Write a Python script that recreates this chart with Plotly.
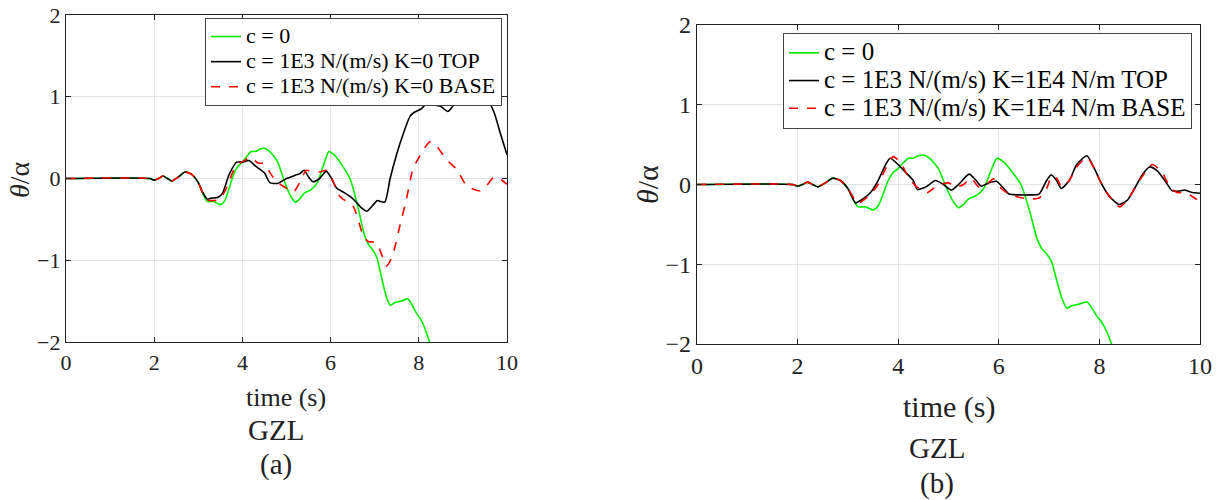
import plotly.graph_objects as go

# ---------------- data ----------------
t_green = [0, 1.9, 2.0, 2.1, 2.2, 2.3, 2.4, 2.55, 2.7, 2.85, 3.0, 3.1, 3.2, 3.35, 3.5, 3.6, 3.7, 3.8,
           3.9, 4.0, 4.1, 4.2, 4.3, 4.4, 4.5, 4.6, 4.7, 4.8, 4.9, 5.0, 5.1, 5.2, 5.3, 5.4, 5.55, 5.7,
           5.8, 5.9, 5.96, 6.1, 6.25, 6.44, 6.55, 6.65, 6.75, 6.85, 6.95, 7.05, 7.15, 7.25, 7.35,
           7.45, 7.6, 7.75, 7.85, 7.95, 8.05, 8.15, 8.3]
v_green = [0, 0, -0.02, 0.0, 0.03, 0.0, -0.03, 0.02, 0.08, 0.05, -0.05, -0.18, -0.28, -0.28, -0.32,
           -0.27, -0.12, 0.05, 0.15, 0.2, 0.27, 0.33, 0.33, 0.36, 0.37, 0.34, 0.28, 0.2, 0.05, -0.1,
           -0.22, -0.29, -0.25, -0.18, -0.14, -0.05, 0.1, 0.26, 0.33, 0.28, 0.17, 0.0, -0.2, -0.42,
           -0.66, -0.8, -0.87, -0.97, -1.2, -1.42, -1.55, -1.52, -1.5, -1.47, -1.55, -1.65, -1.73,
           -1.85, -2.1]

t_top_a = [0, 1.9, 2.0, 2.1, 2.2, 2.3, 2.4, 2.55, 2.7, 2.85, 3.0, 3.1, 3.2, 3.3, 3.45, 3.55, 3.7,
           3.87, 4.0, 4.15, 4.3, 4.5, 4.62, 4.8, 5.0, 5.2, 5.3, 5.4, 5.5, 5.6, 5.75, 5.9, 6.0, 6.14,
           6.3, 6.44, 6.6, 6.7, 6.82, 6.97, 7.06, 7.12, 7.23, 7.35, 7.5, 7.65, 7.8, 7.9, 8.05, 8.21,
           8.35, 8.5, 8.66, 8.8, 9.0, 9.2, 9.39, 9.57, 9.7, 9.85, 10.0]
v_top_a = [0, 0, -0.02, 0.0, 0.03, 0.0, -0.03, 0.02, 0.08, 0.05, -0.05, -0.17, -0.25, -0.24, -0.23,
           -0.18, 0.05, 0.2, 0.2, 0.22, 0.15, 0.07, -0.05, -0.06, 0.0, 0.04, 0.06, 0.1, 0.02, -0.04,
           0.0, 0.09, 0.02, -0.12, -0.17, -0.22, -0.3, -0.36, -0.4, -0.32, -0.27, -0.28, -0.29,
           0.0, 0.3, 0.55, 0.76, 0.81, 0.85, 0.93, 0.9, 0.88, 0.82, 0.9, 0.955, 0.965, 0.93, 0.94,
           0.82, 0.55, 0.29]

t_base_a = [0, 1.9, 2.0, 2.1, 2.2, 2.3, 2.4, 2.55, 2.7, 2.85, 3.0, 3.1, 3.2, 3.35, 3.5, 3.65, 3.8,
            3.9, 4.05, 4.18, 4.35, 4.5, 4.65, 4.8, 5.0, 5.15, 5.3, 5.45, 5.6, 5.75, 5.9, 5.99, 6.21,
            6.51, 6.74, 6.85, 7.0, 7.1, 7.27, 7.4, 7.57, 7.72, 7.87, 8.05, 8.25, 8.4, 8.63, 8.86,
            9.09, 9.39, 9.55, 9.69, 9.85, 10.0]
v_base_a = [0, 0, -0.02, 0.0, 0.03, 0.0, -0.03, 0.02, 0.08, 0.05, -0.05, -0.18, -0.26, -0.27, -0.25,
            -0.1, 0.1, 0.17, 0.22, 0.26, 0.19, 0.18, 0.05, -0.05, -0.12, -0.17, -0.05, 0.1, 0.08,
            0.08, 0.1, 0.05, -0.22, -0.34, -0.7, -0.77, -0.78, -0.85, -1.07, -0.95, -0.58, -0.25,
            0.12, 0.3, 0.45, 0.4, 0.23, 0.11, -0.09, -0.15, -0.08, 0.01, -0.01, -0.07]

t_top_b = [0, 1.9, 2.0, 2.1, 2.2, 2.3, 2.4, 2.55, 2.7, 2.85, 3.0, 3.15, 3.3, 3.45, 3.6, 3.75, 3.84,
           4.0, 4.15, 4.3, 4.38, 4.55, 4.74, 4.9, 5.06, 5.2, 5.41, 5.55, 5.65, 5.8, 5.95, 6.1, 6.2,
           6.4, 6.6, 6.8, 6.95, 7.04, 7.15, 7.24, 7.4, 7.55, 7.75, 7.9, 8.05, 8.2, 8.39, 8.55, 8.7,
           8.85, 9.0, 9.15, 9.3, 9.45, 9.6, 9.7, 9.85, 10.0]
v_top_b = [0, 0, -0.02, 0.0, 0.03, 0.0, -0.03, 0.02, 0.08, 0.05, -0.05, -0.23, -0.18, -0.1, 0.05,
           0.25, 0.33, 0.25, 0.15, 0.05, -0.06, -0.03, 0.05, 0.0, -0.07, 0.0, 0.13, 0.05, -0.02,
           0.02, 0.04, -0.05, -0.12, -0.13, -0.13, -0.12, 0.05, 0.12, 0.05, -0.05, 0.05, 0.25,
           0.36, 0.2, 0.0, -0.15, -0.25, -0.2, -0.05, 0.12, 0.22, 0.17, 0.05, -0.08, -0.08, -0.07,
           -0.1, -0.11]

t_base_b = [0, 1.9, 2.0, 2.1, 2.2, 2.3, 2.4, 2.55, 2.7, 2.85, 3.0, 3.2, 3.3, 3.45, 3.6, 3.75, 3.9,
            4.05, 4.2, 4.35, 4.58, 4.7, 4.85, 5.0, 5.15, 5.3, 5.45, 5.6, 5.75, 5.9, 6.05, 6.2, 6.4,
            6.6, 6.8, 6.95, 7.05, 7.15, 7.25, 7.4, 7.55, 7.75, 7.9, 8.05, 8.2, 8.4, 8.55, 8.7, 8.85,
            9.05, 9.25, 9.4, 9.55, 9.7, 9.85, 10.0]
v_base_b = [0, 0, -0.02, 0.0, 0.03, 0.0, -0.03, 0.02, 0.08, 0.05, -0.05, -0.24, -0.2, -0.12, 0.0,
            0.2, 0.35, 0.27, 0.1, -0.02, -0.1, -0.05, 0.0, 0.02, -0.03, 0.0, 0.08, -0.03, 0.0, 0.07,
            -0.05, -0.12, -0.16, -0.18, -0.17, -0.05, 0.1, 0.08, -0.03, 0.05, 0.22, 0.34, 0.2, 0.0,
            -0.15, -0.28, -0.2, -0.05, 0.1, 0.25, 0.15, -0.03, -0.1, -0.1, -0.15, -0.22]

x_ticks = [0, 2, 4, 6, 8, 10]
y_ticks = [-2, -1, 0, 1, 2]
legend_names_a = ["c = 0", "c = 1E3 N/(m/s) K=0 TOP", "c = 1E3 N/(m/s) K=0 BASE"]
legend_names_b = ["c = 0", "c = 1E3 N/(m/s) K=1E4 N/m TOP", "c = 1E3 N/(m/s) K=1E4 N/m BASE"]

GREEN = "#00f000"
FONT = "Liberation Serif"
W, H = 1224, 500

fig = go.Figure()

def add_set(xa, ya, names, legend, series, txt_size):
    styles = [dict(color=GREEN, width=1.6, dash="solid"),
              dict(color="black", width=1.6, dash="solid"),
              dict(color="#ff0000", width=1.6, dash="dash")]
    for (tt, vv), nm, st in zip(series, names, styles):
        label = f'<span style="font-size:{txt_size}px">{nm}</span>'
        fig.add_trace(go.Scatter(x=tt, y=vv, mode="lines", name=label,
                                 line=dict(shape="spline", smoothing=0.6, **st),
                                 xaxis=xa, yaxis=ya, legend=legend))

add_set("x", "y", legend_names_a, "legend",
        [(t_green, v_green), (t_top_a, v_top_a), (t_base_a, v_base_a)], 22)
add_set("x2", "y2", legend_names_b, "legend2",
        [(t_green, v_green), (t_top_b, v_top_b), (t_base_b, v_base_b)], 25)

def px_x(p):
    return p / W

def px_y(p):
    return 1 - p / H

def axis(size, **kw):
    d = dict(showline=True, linecolor="#222222", linewidth=1.3, mirror="ticks", ticks="inside",
             ticklen=5, tickcolor="#222222", showgrid=True, gridcolor="#e4e4e4", gridwidth=1,
             zeroline=False, automargin=False,
             tickfont=dict(family=FONT, size=size, color="#222222"))
    d.update(kw)
    return d

fig.update_layout(
    template="none",
    width=W, height=H, margin=dict(l=0, r=0, t=0, b=0, pad=0, autoexpand=False),
    paper_bgcolor="white", plot_bgcolor="white",
    xaxis=axis(22, domain=[px_x(66), px_x(507)], range=[0, 10], tickvals=x_ticks, anchor="y"),
    yaxis=axis(22, domain=[px_y(342), px_y(15)], range=[-2, 2], tickvals=y_ticks, anchor="x"),
    xaxis2=axis(24, domain=[px_x(697), px_x(1200)], range=[0, 10], tickvals=x_ticks, anchor="y2"),
    yaxis2=axis(24, domain=[px_y(344), px_y(25)], range=[-2, 2], tickvals=y_ticks, anchor="x2"),
    legend=dict(x=px_x(502), y=px_y(18), xanchor="right", yanchor="top", bgcolor="white",
                bordercolor="#444444", borderwidth=1, font=dict(family=FONT, size=17, color="black"),
                tracegroupgap=0),
    legend2=dict(x=px_x(1192), y=px_y(33), xanchor="right", yanchor="top", bgcolor="white",
                 bordercolor="#444444", borderwidth=1, font=dict(family=FONT, size=19, color="black"),
                 tracegroupgap=0),
    showlegend=True,
)

def note(text, x, y, size=22, angle=0):
    fig.add_annotation(text=text, x=px_x(x), y=px_y(y), xref="paper", yref="paper",
                       showarrow=False, textangle=angle, xanchor="center", yanchor="middle",
                       font=dict(family=FONT, size=size, color="#222222"))

note("time (s)", 286, 397, size=26)
note("GZL", 276, 430, size=29)
note("(a)", 276, 464, size=29)
note("<i>θ</i>/α", 19, 180, size=28, angle=-90)
note("time (s)", 949, 407, size=30)
note("GZL", 937, 448, size=29)
note("(b)", 937, 483, size=29)
note("<i>θ</i>/α", 647, 185, size=30, angle=-90)

fig.write_html("out.html")
